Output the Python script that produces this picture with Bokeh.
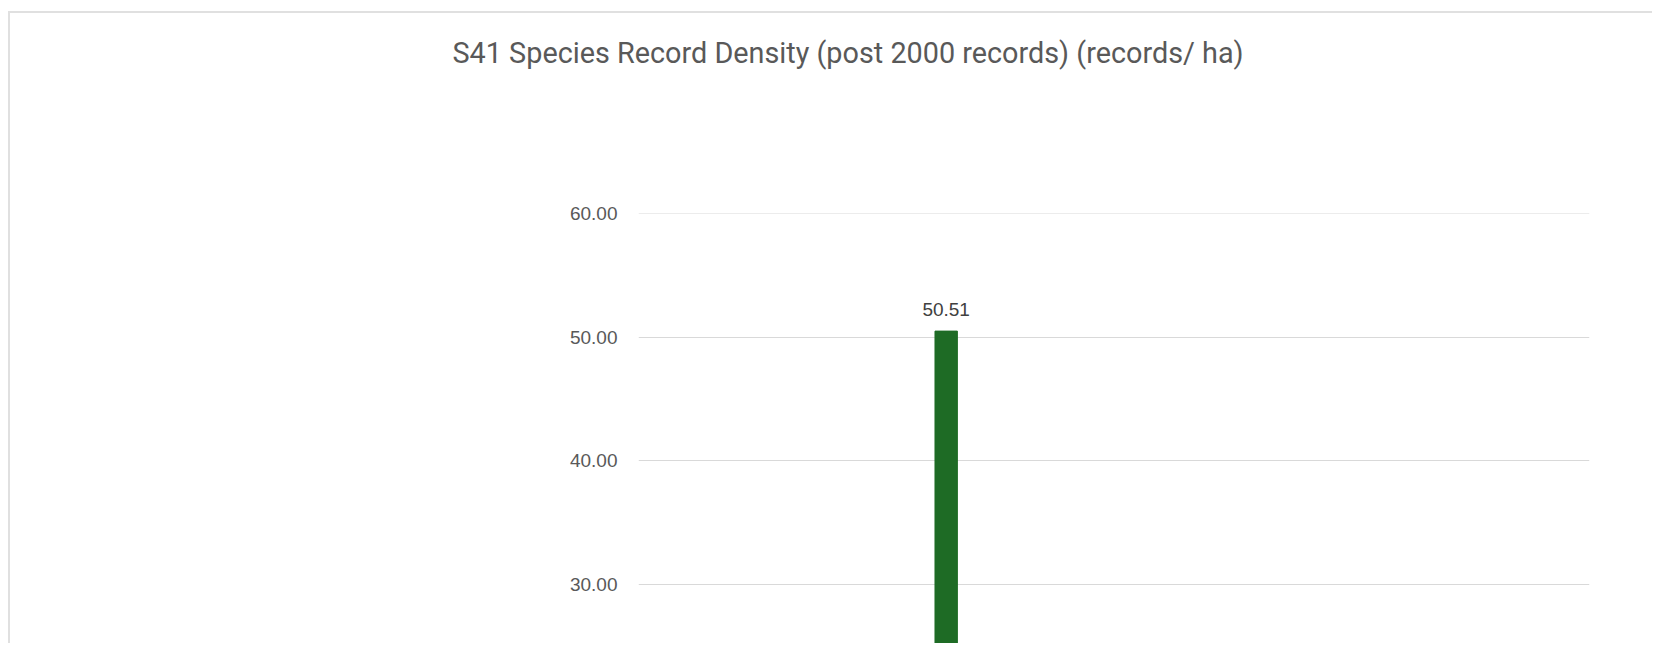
from bokeh.plotting import figure
from bokeh.models import (ColumnDataSource, FactorRange, Range1d, LabelSet,
                          NumeralTickFormatter, SingleIntervalTicker)
from bokeh.core.properties import value
from bokeh.embed import file_html
from bokeh.resources import INLINE

# ---- data (only the one bar within the visible window can be read) ----
categories = ["1", "2", "3", "4", "5", "6", "7", "8", "9", "10",
              "11", "12", "13", "14", "15", "16", "17"]
values = [None, None, None, None, None, 50.51, None, None, None, None,
          None, None, None, None, None, None, None]
title_text = "S41 Species Record Density (post 2000 records) (records/ ha)"
y_ticks_interval = 10

tops = [float("nan") if v is None else v for v in values]
labels = ["" if v is None else f"{v:.2f}" for v in values]
label_y = [0 if v is None else v for v in values]
src = ColumnDataSource(dict(cat=categories, top=tops, label=labels, ly=label_y))

p = figure(width=1644, height=632, output_backend="svg", toolbar_location=None,
           x_range=FactorRange(*categories), y_range=Range1d(25.06, 60.03),
           min_border_left=628, min_border_right=65, min_border_top=198,
           min_border_bottom=0)
p.styles = {"border-top": "2px solid #e0e0e0", "border-left": "2px solid #e0e0e0",
            "margin-top": "11px", "margin-left": "8px"}

p.title.text = title_text
p.title.text_font = "Roboto"
p.title.text_font_size = "28.8px"
p.title.text_font_style = "normal"
p.title.text_color = "#595959"
p.title.align = "left"
p.title.offset = -186
p.title.standoff = 0
p.title.vertical_align = "bottom"
p.title.padding = dict(left=0, right=0, top=20, bottom=144)

p.vbar(x="cat", top="top", width=0.4, source=src, color="#1e6b25")

lbl = LabelSet(x="cat", y="ly", text="label", source=src, text_align="center",
               text_baseline="middle", y_offset=22,
               text_font=value("Liberation Sans"),
               text_font_size="19px", text_color="#404040")
p.add_layout(lbl)

p.xaxis.visible = False
p.xgrid.visible = False
p.ygrid.grid_line_color = "#d9d9d9"
p.ygrid.grid_line_width = 1

ya = p.yaxis[0]
ya.ticker = SingleIntervalTicker(interval=y_ticks_interval)
ya.formatter = NumeralTickFormatter(format="0.00")
ya.axis_line_color = None
ya.major_tick_line_color = None
ya.minor_tick_line_color = None
ya.major_label_standoff = 15
ya.major_label_text_font = "Liberation Sans"
ya.major_label_text_font_size = "19px"
ya.major_label_text_color = "#595959"

p.outline_line_color = None
p.background_fill_color = "white"
p.border_fill_color = "white"

open("out.html", "w").write(file_html(p, INLINE))
